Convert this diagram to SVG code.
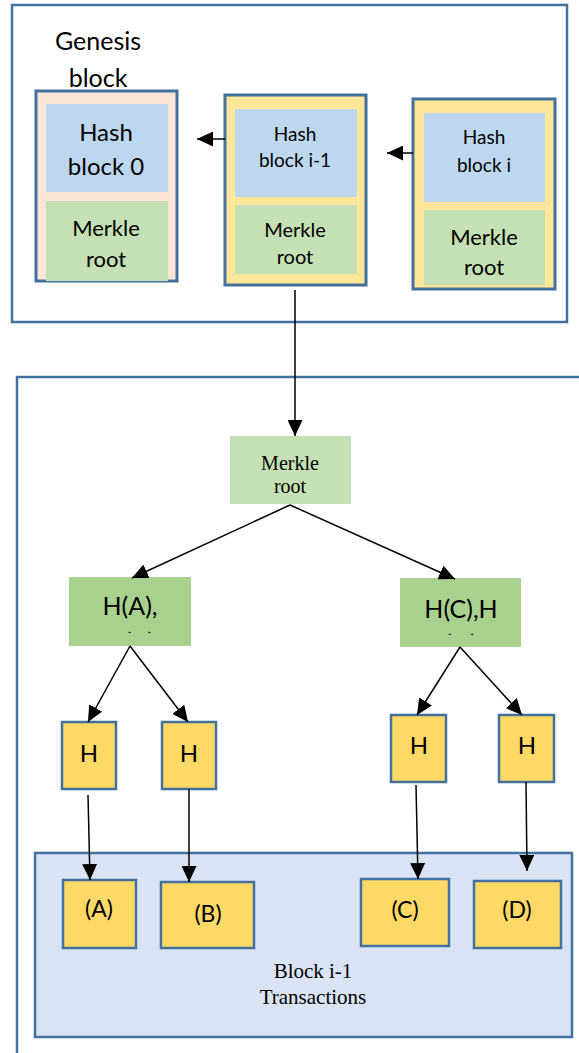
<svg xmlns="http://www.w3.org/2000/svg" width="579" height="1053" viewBox="0 0 579 1053">
  <style>
    .frame { fill: #ffffff; stroke: #41719c; stroke-width: 2.5; }
    .blk { stroke: #41719c; stroke-width: 3; }
    .hash { fill: #bdd7ee; }
    .mr { fill: #c5e0b4; }
    .hab { fill: #a9d18e; }
    .leaf { fill: #ffd966; stroke: #41719c; stroke-width: 2.5; }
    .tx { fill: #dae3f3; stroke: #41719c; stroke-width: 2.5; }
    .sans { font-family: Lato, "Liberation Sans", sans-serif; fill: #000; text-anchor: middle; }
    .serif { font-family: "Liberation Serif", "Times New Roman", serif; fill: #000; text-anchor: middle; }
    .wire { stroke: #000; stroke-width: 1.5; fill: none; marker-end: url(#head); }
  </style>
  <defs>
    <marker id="head" markerUnits="userSpaceOnUse" markerWidth="16" markerHeight="15" refX="16" refY="7.5" orient="auto">
      <path d="M0,0 L16,7.5 L0,15 z" fill="#000"/>
    </marker>
    <!-- second label lines overflow their boxes and are cut off -->
    <clipPath id="clipAB"><rect x="69" y="577" width="122" height="56"/></clipPath>
    <clipPath id="clipCD"><rect x="400" y="578" width="121" height="57"/></clipPath>
  </defs>

  <!-- chain of blocks -->
  <rect class="frame" x="12" y="5" width="555" height="317"/>
  <g id="genesis-label">
    <text class="sans" x="98" y="50" font-size="25">Genesis</text>
    <text class="sans" x="98" y="87" font-size="25">block</text>
  </g>

  <g id="block-0">
    <rect class="blk" x="36" y="91" width="141" height="190" fill="#fbe5d6"/>
    <rect class="hash" x="46" y="104" width="122" height="88"/>
    <rect class="mr" x="46" y="201" width="122" height="80"/>
    <text class="sans" x="106" y="141" font-size="24">Hash</text>
    <text class="sans" x="106" y="175" font-size="24">block 0</text>
    <text class="sans" x="106" y="236" font-size="22">Merkle</text>
    <text class="sans" x="106" y="267" font-size="22">root</text>
  </g>

  <g id="block-i-1">
    <rect class="blk" x="225" y="95" width="141" height="190" fill="#ffe699"/>
    <rect class="hash" x="235" y="109" width="122" height="88"/>
    <rect class="mr" x="235" y="205" width="122" height="69"/>
    <text class="sans" x="295" y="141" font-size="19">Hash</text>
    <text class="sans" x="295" y="167" font-size="19">block i-1</text>
    <text class="sans" x="295" y="237" font-size="20">Merkle</text>
    <text class="sans" x="295" y="264" font-size="20">root</text>
  </g>

  <g id="block-i">
    <rect class="blk" x="413" y="99" width="142" height="190" fill="#ffe699"/>
    <rect class="hash" x="424" y="113" width="121" height="89"/>
    <rect class="mr" x="424" y="210" width="121" height="75"/>
    <text class="sans" x="484" y="144" font-size="19">Hash</text>
    <text class="sans" x="484" y="172" font-size="19">block i</text>
    <text class="sans" x="484" y="245" font-size="22">Merkle</text>
    <text class="sans" x="484" y="275" font-size="22">root</text>
  </g>

  <!-- Merkle tree of block i-1 -->
  <rect class="frame" x="17" y="377" width="600" height="700"/>

  <g id="merkle-root">
    <rect class="mr" x="230" y="436" width="121" height="68"/>
    <text class="serif" x="290" y="470" font-size="20">Merkle</text>
    <text class="serif" x="290" y="493" font-size="20">root</text>
  </g>

  <g id="hab">
    <rect class="hab" x="69" y="577" width="122" height="69"/>
    <g clip-path="url(#clipAB)">
      <text class="sans" x="130" y="615" font-size="25">H(A),</text>
      <text class="sans" x="130" y="651" font-size="25">H(B)</text>
    </g>
  </g>

  <g id="hcd">
    <rect class="hab" x="400" y="578" width="121" height="69"/>
    <g clip-path="url(#clipCD)">
      <text class="sans" x="461" y="618" font-size="25">H(C),H</text>
      <text class="sans" x="461" y="653" font-size="25">(D)</text>
    </g>
  </g>

  <g id="ha"><rect class="leaf" x="62" y="722" width="54" height="67"/><text class="sans" x="89" y="762" font-size="24">H</text></g>
  <g id="hb"><rect class="leaf" x="162" y="722" width="54" height="67"/><text class="sans" x="189" y="762" font-size="24">H</text></g>
  <g id="hc"><rect class="leaf" x="391" y="715" width="55" height="67"/><text class="sans" x="419" y="754" font-size="24">H</text></g>
  <g id="hd"><rect class="leaf" x="499" y="715" width="55" height="67"/><text class="sans" x="527" y="754" font-size="24">H</text></g>

  <g id="transactions">
    <rect class="tx" x="35" y="853" width="537" height="184"/>
    <text class="serif" x="313" y="978" font-size="21">Block i-1</text>
    <text class="serif" x="313" y="1004" font-size="21">Transactions</text>
  </g>

  <g id="tx-a"><rect class="leaf" x="63" y="880" width="73" height="68"/><text class="sans" x="99" y="917" font-size="23">(A)</text></g>
  <g id="tx-b"><rect class="leaf" x="161" y="882" width="93" height="66"/><text class="sans" x="208" y="922" font-size="23">(B)</text></g>
  <g id="tx-c"><rect class="leaf" x="361" y="879" width="88" height="67"/><text class="sans" x="405" y="918" font-size="23">(C)</text></g>
  <g id="tx-d"><rect class="leaf" x="474" y="881" width="87" height="67"/><text class="sans" x="517" y="918" font-size="23">(D)</text></g>

  <g id="connectors">
    <line class="wire" x1="225" y1="139" x2="197" y2="139"/>
    <line class="wire" x1="413" y1="153" x2="387" y2="153"/>
    <line class="wire" x1="295" y1="290" x2="295" y2="436"/>
    <line class="wire" x1="290" y1="505" x2="132" y2="578"/>
    <line class="wire" x1="290" y1="505" x2="455" y2="579"/>
    <line class="wire" x1="130" y1="646" x2="88" y2="722"/>
    <line class="wire" x1="130" y1="646" x2="188" y2="722"/>
    <line class="wire" x1="460" y1="647" x2="417" y2="715"/>
    <line class="wire" x1="460" y1="647" x2="522" y2="715"/>
    <line class="wire" x1="88" y1="795" x2="90" y2="880"/>
    <line class="wire" x1="189" y1="789" x2="189" y2="882"/>
    <line class="wire" x1="416" y1="785" x2="418" y2="879"/>
    <line class="wire" x1="526" y1="782" x2="527" y2="871"/>
  </g>
</svg>
